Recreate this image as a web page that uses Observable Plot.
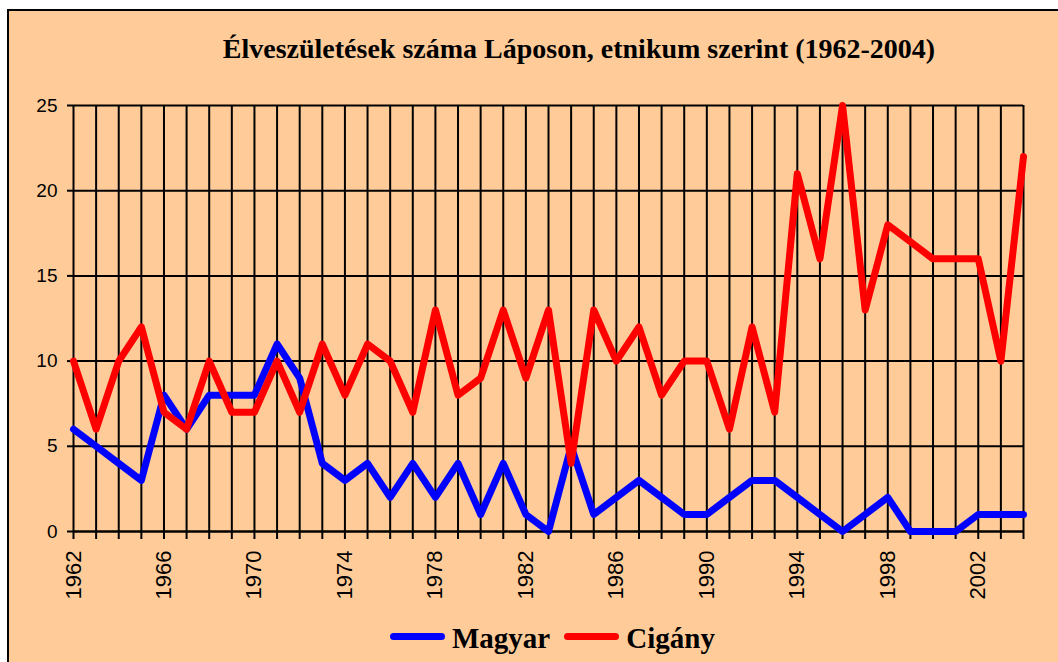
<!DOCTYPE html>
<html>
<head>
<meta charset="utf-8">
<script src="https://cdn.jsdelivr.net/npm/d3@7"></script>
<script src="https://cdn.jsdelivr.net/npm/@observablehq/plot@0.6"></script>
<style>
  html, body { margin: 0; padding: 0; background: #ffffff; width: 1058px; height: 662px; overflow: hidden; }
  #frame { position: absolute; left: 7px; top: 9px; width: 1100px; height: 700px; border: 2px solid #000; background: #FFCC99; }
  #title { position: absolute; left: 0; top: 35px; width: 1158px; text-align: center; font-family: "Liberation Serif", "Times New Roman", serif; font-weight: bold; font-size: 28px; line-height: 28px; white-space: nowrap; color: #000; }
  #chart { position: absolute; left: 0; top: 0; }
  #legend { position: absolute; left: 390px; top: 622px; display: flex; align-items: center; font-family: "Liberation Serif", "Times New Roman", serif; font-weight: bold; font-size: 29px; line-height: 32px; color: #000; white-space: nowrap; }
  .sw { display: inline-block; width: 55px; height: 7px; border-radius: 4px; margin-right: 7px; position: relative; top: -2px; }
  .lab { margin-right: 14px; }
</style>
</head>
<body>
<div id="frame"></div>
<div id="title">Élveszületések száma Láposon, etnikum szerint (1962-2004)</div>
<div id="chart"></div>
<div id="legend"></div>
<script>
const years = [1962,1963,1964,1965,1966,1967,1968,1969,1970,1971,
               1972,1973,1974,1975,1976,1977,1978,1979,1980,1981,
               1982,1983,1984,1985,1986,1987,1988,1989,1990,1991,
               1992,1993,1994,1995,1996,1997,1998,1999,2000,2001,
               2002,2003,2004];
const magyar = [6,5,4,3,8,6,8,8,8,11,
                9,4,3,4,2,4,2,4,1,4,
                1,0,5,1,2,3,2,1,1,2,
                3,3,2,1,0,1,2,0,0,0,
                1,1,1];
const cigany = [10,6,10,12,7,6,10,7,7,10,
                7,11,8,11,10,7,13,8,9,13,
                9,13,4,13,10,12,8,10,10,6,
                12,7,21,16,25,13,18,17,16,16,
                16,10,22];
const labeledYears = [1962,1966,1970,1974,1978,1982,1986,1990,1994,1998,2002];
const yTicks = [0,5,10,15,20,25];
const seriesNames = ["Magyar", "Cigány"];
const seriesColors = ["#0000FF", "#FF0000"];

const rowsMagyar = years.map((y, i) => ({year: y, value: magyar[i]}));
const rowsCigany = years.map((y, i) => ({year: y, value: cigany[i]}));

const chart = Plot.plot({
  width: 1058,
  height: 662,
  marginLeft: 73,
  marginRight: 35,
  marginTop: 105,
  marginBottom: 131,
  style: {background: "transparent", fontFamily: "'Liberation Sans', Arial, sans-serif", color: "#000", overflow: "visible"},
  x: {domain: [1962, 2004]},
  y: {domain: [0, 25]},
  marks: [
    Plot.gridX(years, {stroke: "#000", strokeOpacity: 1, strokeWidth: 2}),
    Plot.gridY(yTicks, {stroke: "#000", strokeOpacity: 1, strokeWidth: 2}),
    Plot.axisY(yTicks, {tickSize: 6, tickPadding: 10, fontSize: 19, strokeWidth: 2, label: null, tickFormat: d => String(d)}),
    Plot.axisX(years, {tickSize: 8, tickPadding: 11, strokeWidth: 2, fontSize: 22, label: null, tickRotate: -90,
      tickFormat: d => labeledYears.includes(d) ? String(d) : ""}),
    Plot.ruleY([0], {stroke: "#000", strokeWidth: 2}),
    Plot.line(rowsMagyar, {x: "year", y: "value", stroke: seriesColors[0], strokeWidth: 7}),
    Plot.line(rowsCigany, {x: "year", y: "value", stroke: seriesColors[1], strokeWidth: 7})
  ]
});
document.getElementById("chart").appendChild(chart);

const legend = document.getElementById("legend");
seriesNames.forEach((name, i) => {
  const sw = document.createElement("span");
  sw.className = "sw";
  sw.style.background = seriesColors[i];
  const lab = document.createElement("span");
  lab.className = "lab";
  lab.textContent = name;
  legend.appendChild(sw);
  legend.appendChild(lab);
});
</script>
</body>
</html>
